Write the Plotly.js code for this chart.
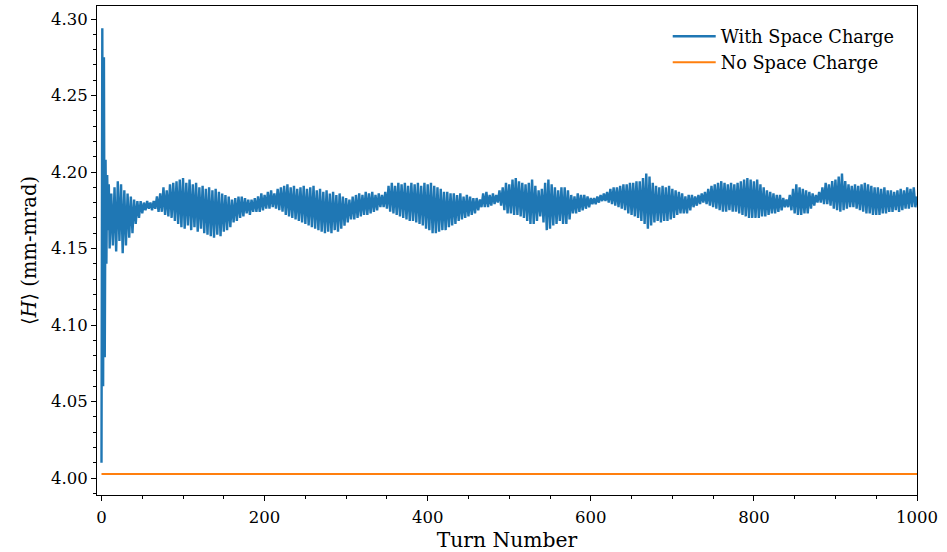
<!DOCTYPE html>
<html>
<head>
<meta charset="utf-8">
<script src="https://cdn.plot.ly/plotly-3.0.1.min.js"></script>
<style>html,body{margin:0;padding:0;background:#fff;}#chart{width:947px;height:552px;}</style>
</head>
<body>
<div id="chart"></div>
<script>
// Turn numbers and <H> for the first turns (sampled every turn)
const earlyTurns = [0, 1, 2, 3, 4, 5, 6, 7, 8, 9, 10];
const earlyH = [4.010, 4.294, 4.060, 4.275, 4.079, 4.208, 4.140, 4.198, 4.162, 4.192, 4.150];

// <H> with space charge, turns 12..1000 sampled every 2 turns
const mainStartTurn = 12;
const mainTurnStep = 2;
const mainH = [
4.186,4.152,4.190,4.148,4.194,4.155,4.192,4.147,4.188,4.152,
4.186,4.157,4.184,4.160,4.182,4.166,4.181,4.170,4.181,4.173,
4.180,4.175,4.181,4.176,4.180,4.175,4.181,4.176,4.184,4.174,
4.186,4.174,4.190,4.172,4.188,4.171,4.192,4.170,4.193,4.168,
4.194,4.166,4.195,4.164,4.196,4.163,4.193,4.165,4.195,4.162,
4.192,4.164,4.193,4.161,4.190,4.163,4.191,4.160,4.189,4.159,
4.190,4.158,4.188,4.157,4.189,4.159,4.187,4.158,4.186,4.161,
4.185,4.162,4.184,4.164,4.182,4.167,4.183,4.168,4.184,4.170,
4.184,4.171,4.183,4.173,4.182,4.172,4.182,4.174,4.183,4.174,
4.184,4.174,4.186,4.175,4.185,4.176,4.187,4.176,4.188,4.177,
4.186,4.176,4.189,4.175,4.190,4.174,4.191,4.172,4.192,4.171,
4.190,4.170,4.191,4.169,4.189,4.168,4.190,4.167,4.191,4.166,
4.189,4.165,4.190,4.164,4.191,4.163,4.188,4.162,4.189,4.161,
4.187,4.160,4.188,4.161,4.186,4.160,4.187,4.162,4.185,4.161,
4.186,4.163,4.184,4.165,4.183,4.167,4.182,4.169,4.184,4.169,
4.185,4.170,4.186,4.171,4.185,4.172,4.187,4.172,4.186,4.173,
4.187,4.174,4.185,4.175,4.186,4.177,4.185,4.177,4.187,4.176,
4.191,4.174,4.193,4.173,4.191,4.172,4.193,4.171,4.192,4.170,
4.193,4.169,4.191,4.168,4.193,4.168,4.192,4.167,4.193,4.166,
4.191,4.165,4.193,4.163,4.192,4.162,4.193,4.160,4.191,4.160,
4.190,4.161,4.189,4.162,4.187,4.162,4.187,4.164,4.186,4.165,
4.186,4.166,4.185,4.168,4.186,4.169,4.184,4.170,4.185,4.171,
4.184,4.172,4.183,4.173,4.183,4.175,4.182,4.177,4.186,4.177,
4.187,4.177,4.185,4.178,4.186,4.179,4.185,4.180,4.188,4.178,
4.190,4.175,4.193,4.173,4.192,4.173,4.195,4.172,4.196,4.172,
4.194,4.171,4.193,4.170,4.192,4.168,4.193,4.166,4.195,4.166,
4.191,4.168,4.188,4.171,4.189,4.167,4.193,4.162,4.195,4.163,
4.192,4.165,4.190,4.166,4.188,4.168,4.190,4.166,4.190,4.166,
4.188,4.169,4.185,4.173,4.184,4.173,4.186,4.174,4.185,4.175,
4.185,4.176,4.184,4.177,4.183,4.179,4.183,4.179,4.184,4.180,
4.185,4.181,4.186,4.181,4.187,4.180,4.189,4.179,4.190,4.178,
4.190,4.177,4.191,4.176,4.192,4.175,4.192,4.173,4.193,4.172,
4.193,4.171,4.194,4.170,4.194,4.168,4.196,4.166,4.199,4.163,
4.197,4.165,4.193,4.167,4.191,4.168,4.190,4.167,4.191,4.168,
4.190,4.168,4.191,4.169,4.189,4.170,4.188,4.172,4.187,4.173,
4.186,4.173,4.184,4.173,4.185,4.175,4.185,4.177,4.184,4.178,
4.185,4.179,4.186,4.180,4.187,4.179,4.189,4.178,4.191,4.177,
4.192,4.176,4.193,4.175,4.194,4.174,4.193,4.174,4.192,4.175,
4.193,4.174,4.192,4.174,4.193,4.173,4.194,4.172,4.195,4.171,
4.196,4.170,4.195,4.170,4.194,4.170,4.195,4.170,4.192,4.171,
4.190,4.171,4.188,4.172,4.187,4.173,4.186,4.173,4.185,4.174,
4.185,4.175,4.183,4.177,4.182,4.177,4.185,4.175,4.189,4.173,
4.192,4.172,4.190,4.172,4.189,4.173,4.188,4.173,4.187,4.176,
4.186,4.178,4.185,4.180,4.187,4.180,4.190,4.179,4.193,4.179,
4.192,4.178,4.194,4.176,4.195,4.175,4.197,4.174,4.199,4.175,
4.194,4.176,4.192,4.177,4.191,4.177,4.192,4.176,4.191,4.175,
4.192,4.174,4.193,4.173,4.192,4.173,4.191,4.172,4.190,4.172,
4.190,4.172,4.189,4.173,4.190,4.173,4.188,4.174,4.188,4.174,
4.187,4.175,4.188,4.174,4.189,4.175,4.188,4.176,4.190,4.176,
4.189,4.177,4.190,4.177,4.184
];

// <H> without space charge (flat)
const noSCTurns = [0, 1000];
const noSCH = [4.0027, 4.0027];

// tick labels
const xTicks = [0, 200, 400, 600, 800, 1000];
const yTicks = [4.00, 4.05, 4.10, 4.15, 4.20, 4.25, 4.30];

const withTurns = earlyTurns.concat(mainH.map((_, i) => mainStartTurn + mainTurnStep * i));
const withH = earlyH.concat(mainH);

const FONT = "DejaVu Serif, serif";

const traces = [
  {x: withTurns, y: withH, type: 'scatter', mode: 'lines', name: 'With Space Charge',
   line: {color: '#1f77b4', width: 2.4}},
  {x: noSCTurns, y: noSCH, type: 'scatter', mode: 'lines', name: 'No Space Charge',
   line: {color: '#ff7f0e', width: 2}}
];

const axisCommon = {
  showgrid: false, zeroline: false, showline: true, mirror: true,
  linecolor: '#000', linewidth: 1, ticks: 'outside', ticklen: 5, tickwidth: 1,
  tickcolor: '#000', tickfont: {family: FONT, size: 16.5, color: '#000'}
};

const layout = {
  width: 947, height: 552,
  margin: {l: 97, r: 30, t: 6, b: 57},
  paper_bgcolor: '#fff', plot_bgcolor: '#fff',
  font: {family: FONT, color: '#000'},
  showlegend: true,
  legend: {x: 0.696, y: 0.975, xanchor: 'left', yanchor: 'top', bgcolor: 'rgba(0,0,0,0)',
           itemwidth: 43,
           font: {family: FONT, size: 17.7, color: '#000'}},
  xaxis: Object.assign({}, axisCommon, {
    range: [-5.5, 1000], tickvals: xTicks, ticktext: xTicks.map(String),
    ticklabelstandoff: 2,
    minor: {ticks: 'outside', dtick: 50, tick0: 0, ticklen: 3, tickcolor: '#000', tickwidth: 1},
    title: {text: 'Turn Number', font: {family: FONT, size: 20.3, color: '#000'}, standoff: 8}
  }),
  yaxis: Object.assign({}, axisCommon, {
    range: [3.9889, 4.3085], tickvals: yTicks, ticktext: yTicks.map(v => v.toFixed(2)),
    minor: {ticks: 'outside', dtick: 0.01, tick0: 4.0, ticklen: 3, tickcolor: '#000', tickwidth: 1},
    title: {text: '⟨<i>H</i>⟩ (mm-mrad)', font: {family: FONT, size: 19.5, color: '#000'}, standoff: 9}
  })
};

Plotly.newPlot('chart', traces, layout, {staticPlot: true, displayModeBar: false});
</script>
</body>
</html>
